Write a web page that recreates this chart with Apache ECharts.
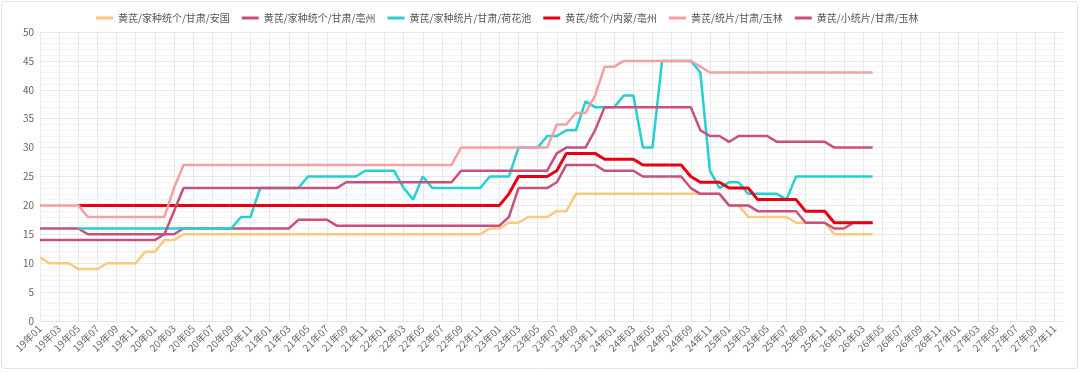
<!DOCTYPE html>
<html>
<head>
<meta charset="utf-8">
<script src="https://cdn.jsdelivr.net/npm/echarts@6/dist/echarts.min.js"></script>
<style>
html,body{margin:0;padding:0;background:#fff;}
#c{width:1080px;height:374px;}
</style>
</head>
<body>
<div id="c"></div>
<script>
var years = ['19','20','21','22','23','24','25','26','27'];
var months = ['01','02','03','04','05','06','07','08','09','10','11','12'];
var categories = [];
years.forEach(function(y){ months.forEach(function(m){ categories.push(y + '年' + m); }); });

var seriesNames = ['黄芪/家种统个/甘肃/安国','黄芪/家种统个/甘肃/亳州','黄芪/家种统片/甘肃/荷花池','黄芪/统个/内蒙/亳州','黄芪/统片/甘肃/玉林','黄芪/小统片/甘肃/玉林'];

var anguo = [
 11,10,10,10,9,9,9,10,10,10,10,12,
 12,14,14,15,15,15,15,15,15,15,15,15,
 15,15,15,15,15,15,15,15,15,15,15,15,
 15,15,15,15,15,15,15,15,15,15,15,16,
 16,17,17,18,18,18,19,19,22,22,22,22,
 22,22,22,22,22,22,22,22,22,22,22,22,
 20,20,18,18,18,18,18,17,17,17,17,15,
 15,15,15,15];
var bozhouJz = [
 16,16,16,16,16,15,15,15,15,15,15,15,
 15,15,15,16,16,16,16,16,16,16,16,16,
 16,16,16,17.5,17.5,17.5,17.5,16.5,16.5,16.5,16.5,16.5,
 16.5,16.5,16.5,16.5,16.5,16.5,16.5,16.5,16.5,16.5,16.5,16.5,
 16.5,18,23,23,23,23,24,27,27,27,27,26,
 26,26,26,25,25,25,25,25,23,22,22,22,
 20,20,20,19,19,19,19,19,17,17,17,16,
 16,17,17,17];
var hehuachi = [
 null,null,null,null,16,16,16,16,16,16,16,16,
 16,16,16,16,16,16,16,16,16,18,18,23,
 23,23,23,23,25,25,25,25,25,25,26,26,
 26,26,23,21,25,23,23,23,23,23,23,25,
 25,25,30,30,30,32,32,33,33,38,37,37,
 37,39,39,30,30,45,45,45,45,43,26,23,
 24,24,22,22,22,22,21,25,25,25,25,25,
 25,25,25,25];
var neimeng = [
 null,null,null,null,20,20,20,20,20,20,20,20,
 20,20,20,20,20,20,20,20,20,20,20,20,
 20,20,20,20,20,20,20,20,20,20,20,20,
 20,20,20,20,20,20,20,20,20,20,20,20,
 20,22,25,25,25,25,26,29,29,29,29,28,
 28,28,28,27,27,27,27,27,25,24,24,24,
 23,23,23,21,21,21,21,21,19,19,19,17,
 17,17,17,17];
var yulinTp = [
 20,20,20,20,20,18,18,18,18,18,18,18,
 18,18,23,27,27,27,27,27,27,27,27,27,
 27,27,27,27,27,27,27,27,27,27,27,27,
 27,27,27,27,27,27,27,27,30,30,30,30,
 30,30,30,30,30,30,34,34,36,36,39,44,
 44,45,45,45,45,45,45,45,45,44,43,43,
 43,43,43,43,43,43,43,43,43,43,43,43,
 43,43,43,43];
var yulinXtp = [
 14,14,14,14,14,14,14,14,14,14,14,14,
 14,15,19,23,23,23,23,23,23,23,23,23,
 23,23,23,23,23,23,23,23,24,24,24,24,
 24,24,24,24,24,24,24,24,26,26,26,26,
 26,26,26,26,26,26,29,30,30,30,33,37,
 37,37,37,37,37,37,37,37,37,33,32,32,
 31,32,32,32,32,31,31,31,31,31,31,30,
 30,30,30,30];

var seriesData = [anguo, bozhouJz, hehuachi, neimeng, yulinTp, yulinXtp];
var colors = ['#fbc97c','#c8507c','#24d0d2','#e60012','#f5a0a0','#c8507c'];
var widths = [2.5,2.5,2.5,3,2.5,2.5];

var chart = echarts.init(document.getElementById('c'), null, {renderer:'canvas'});
var FONT = '"Noto Sans CJK SC", "Microsoft YaHei", sans-serif';
var option = {
  animation: false,
  backgroundColor: '#fff',
  textStyle: {fontFamily: FONT},
  graphic: [{
    type: 'rect', silent: true, z: -10,
    shape: {x: 1.5, y: 1.5, width: 1076, height: 367, r: 3},
    style: {fill: 'none', stroke: '#e2e2e2', lineWidth: 1}
  }],
  legend: {
    top: 8, left: 91,
    itemWidth: 17, itemHeight: 3, itemGap: 12,
    icon: 'rect',
    textStyle: {fontSize: 10, color: '#555', fontFamily: FONT},
    data: seriesNames
  },
  grid: {left: 40, right: 16, top: 32, bottom: 53, containLabel: false},
  xAxis: {
    type: 'category',
    data: categories,
    boundaryGap: false,
    axisLine: {lineStyle: {color: '#e4e4e4'}},
    axisTick: {show: false},
    axisLabel: {interval: 1, rotate: 45, fontSize: 10, color: '#666', margin: 6, fontFamily: FONT},
    splitLine: {show: true, interval: 1, lineStyle: {color: '#e8e8e8', width: 1}}
  },
  yAxis: {
    type: 'value',
    min: 0, max: 50, interval: 5,
    axisLine: {show: false},
    axisTick: {show: false},
    axisLabel: {fontSize: 10, color: '#666', margin: 6, fontFamily: FONT},
    splitLine: {lineStyle: {color: '#e8e8e8', width: 1}},
    minorTick: {show: false, splitNumber: 5},
    minorSplitLine: {show: true, lineStyle: {color: '#f4f4f4', width: 1}}
  },
  series: seriesNames.map(function(n, k){
    return {
      name: n, type: 'line', data: seriesData[k],
      showSymbol: false, symbol: 'none', smooth: false,
      color: colors[k],
      lineStyle: {width: widths[k], color: colors[k]},
      itemStyle: {color: colors[k]}
    };
  })
};
chart.setOption(option);
</script>
</body>
</html>
